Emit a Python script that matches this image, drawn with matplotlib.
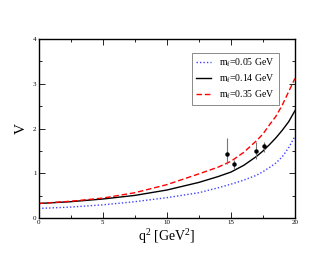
import matplotlib
matplotlib.use('Agg')
import matplotlib.pyplot as plt
from matplotlib.ticker import MultipleLocator

plt.rcParams['font.family'] = 'Liberation Serif'
plt.rcParams['mathtext.fontset'] = 'custom'
plt.rcParams['mathtext.rm'] = 'Liberation Serif'
plt.rcParams['mathtext.it'] = 'Liberation Serif'

# curves
q2 = [0, 2.5, 5, 7.5, 10, 12.5, 14, 15, 16, 17, 17.5, 18, 18.5, 19, 19.5, 20]
v_red = [0.33, 0.38, 0.45, 0.57, 0.75, 0.99, 1.14, 1.27, 1.47, 1.73, 1.88, 2.08,
         2.27, 2.52, 2.82, 3.12]
v_black = [0.33, 0.37, 0.43, 0.51, 0.63, 0.80, 0.93, 1.03, 1.18, 1.38, 1.50,
           1.64, 1.79, 1.96, 2.15, 2.40]
v_blue = [0.22, 0.25, 0.30, 0.37, 0.46, 0.57, 0.68, 0.76, 0.85, 0.96, 1.04,
          1.13, 1.23, 1.37, 1.57, 1.83]

# data points with errors
q2_pts = [14.69, 15.27, 16.93, 17.55]
v_pts = [1.43, 1.21, 1.51, 1.61]
err_lo = [0.21, 0.11, 0.19, 0.13]
err_hi = [0.35, 0.09, 0.18, 0.10]

fig = plt.figure(figsize=(3.32, 2.57), dpi=100)
ax = fig.add_axes([0.1166, 0.1506, 0.772, 0.6984])

ax.plot(q2, v_blue, color='#4040ff', linestyle=(0, (1, 1.5)), lw=1.0,
        label='m$_f$=0.05 GeV')
ax.plot(q2, v_black, color='black', lw=1.0, label='m$_f$=0.14 GeV')
ax.plot(q2, v_red, color='red', linestyle=(0, (4, 2)), lw=1.0,
        label='m$_f$=0.35 GeV')
ax.errorbar(q2_pts, v_pts, yerr=[err_lo, err_hi], fmt='o', color='black',
            ms=2.2, ecolor='#777777', elinewidth=0.8, capsize=0)

ax.set_xlim(0, 20)
ax.set_ylim(0, 4)
ax.xaxis.set_major_locator(MultipleLocator(5))
ax.xaxis.set_minor_locator(MultipleLocator(2.5))
ax.yaxis.set_major_locator(MultipleLocator(1))
ax.yaxis.set_minor_locator(MultipleLocator(0.5))
ax.tick_params(which='both', direction='in', top=True, right=True,
               labelsize=5, width=0.6, pad=1.5)
ax.tick_params(which='major', length=4)
ax.tick_params(which='minor', length=2)
for s in ax.spines.values():
    s.set_linewidth(1.0)

ax.set_xlabel('q$^2$ [GeV$^2$]', fontsize=10, labelpad=1)
ax.set_ylabel('V', fontsize=11, labelpad=4)

leg = ax.legend(loc='upper right', bbox_to_anchor=(0.955, 0.95), fontsize=7,
                frameon=True, fancybox=False, edgecolor='#555555',
                handlelength=1.6, borderpad=0.4, labelspacing=0.35,
                handletextpad=0.8)
leg.get_frame().set_linewidth(0.6)

fig.savefig('out.png', dpi=100)
